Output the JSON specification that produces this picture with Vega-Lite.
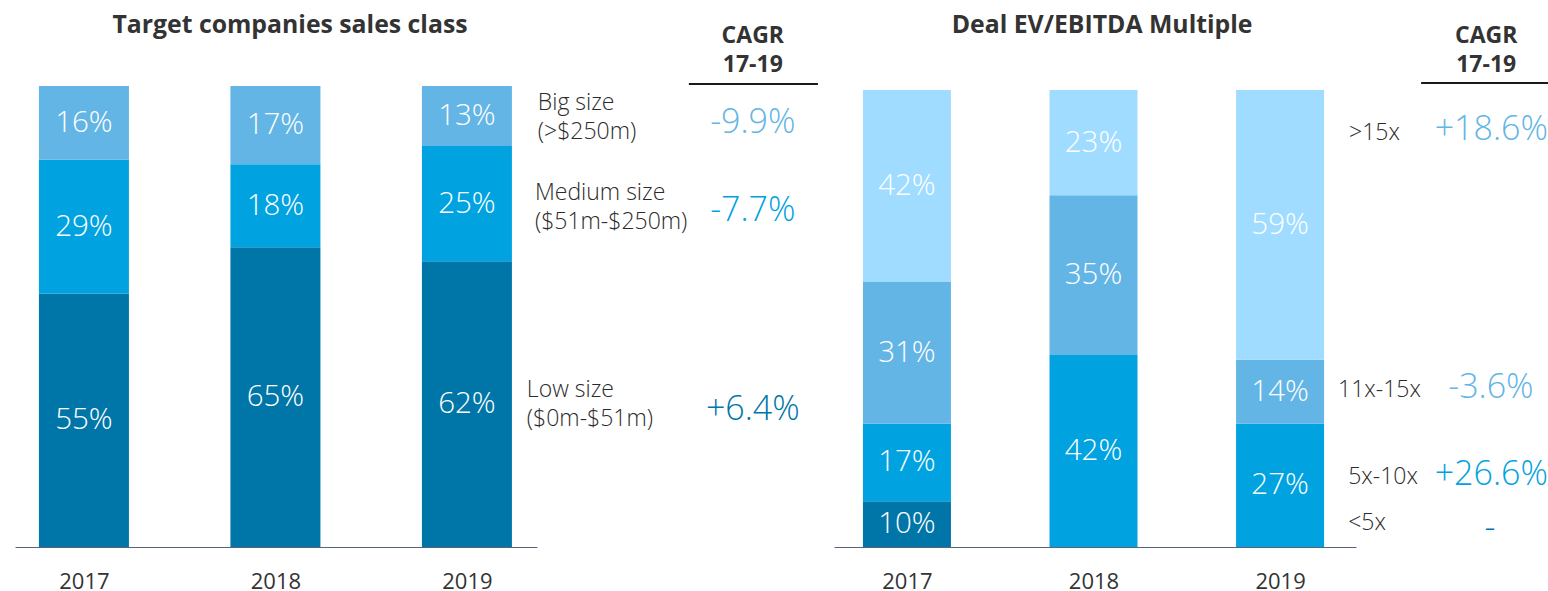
{
  "$schema": "https://vega.github.io/schema/vega-lite/v6.json",
  "background": "white",
  "padding": {"left": 15, "top": 12, "right": 0, "bottom": 0},
  "config": {"view": {"stroke": null}, "font": "Open Sans"},
  "bounds": "flush",
  "spacing": 297,
  "resolve": {"scale": {"x": "independent", "y": "independent", "color": "independent"}},
  "datasets": {
    "left": [
      {"year": 2017, "cat": "Low size", "pct": 0.55},
      {"year": 2017, "cat": "Medium size", "pct": 0.29},
      {"year": 2017, "cat": "Big size", "pct": 0.16},
      {"year": 2018, "cat": "Low size", "pct": 0.65},
      {"year": 2018, "cat": "Medium size", "pct": 0.18},
      {"year": 2018, "cat": "Big size", "pct": 0.17},
      {"year": 2019, "cat": "Low size", "pct": 0.62},
      {"year": 2019, "cat": "Medium size", "pct": 0.25},
      {"year": 2019, "cat": "Big size", "pct": 0.13}
    ],
    "right": [
      {"year": 2017, "cat": "<5x", "pct": 0.10},
      {"year": 2017, "cat": "5x-10x", "pct": 0.17},
      {"year": 2017, "cat": "11x-15x", "pct": 0.31},
      {"year": 2017, "cat": ">15x", "pct": 0.42},
      {"year": 2018, "cat": "5x-10x", "pct": 0.42},
      {"year": 2018, "cat": "11x-15x", "pct": 0.35},
      {"year": 2018, "cat": ">15x", "pct": 0.23},
      {"year": 2019, "cat": "5x-10x", "pct": 0.27},
      {"year": 2019, "cat": "11x-15x", "pct": 0.14},
      {"year": 2019, "cat": ">15x", "pct": 0.59}
    ],
    "annLeft": [
      {"cat": "Big size", "k": 3, "label": "Big size\n(>$250m)", "cagr": "-9.9%"},
      {"cat": "Medium size", "k": 2, "label": "Medium size\n($51m-$250m)", "cagr": "-7.7%"},
      {"cat": "Low size", "k": 1, "label": "Low size\n($0m-$51m)", "cagr": "+6.4%"}
    ],
    "annRight": [
      {"cat": ">15x", "k": 4, "label": ">15x", "cagr": "+18.6%"},
      {"cat": "11x-15x", "k": 3, "label": "11x-15x", "cagr": "-3.6%"},
      {"cat": "5x-10x", "k": 2, "label": "5x-10x", "cagr": "+26.6%"},
      {"cat": "<5x", "k": 1, "label": "<5x", "cagr": "-"}
    ],
    "head": [{"head": "CAGR\n17-19"}]
  },
  "hconcat": [
    {
      "width": 522,
      "height": 461,
      "layer": [
        {
          "data": {"name": "left"},
          "transform": [{"lookup": "cat", "from": {"data": {"name": "annLeft"}, "key": "cat", "fields": ["k"]}}],
          "layer": [
            {
              "mark": {"type": "bar", "width": 90},
              "encoding": {
                "x": {"field": "year", "type": "quantitative", "scale": {"domain": [2016.64, 2019.366], "nice": false, "zero": false, "padding": 0},
                      "axis": {"values": [2017, 2018, 2019], "format": "d", "title": null, "grid": false, "ticks": false, "tickSize": 0, "labelFontSize": 22, "labelColor": "#333333", "labelPadding": 24, "domainColor": "#5a6478", "domainWidth": 1.2, "labelFont": "Open Sans"}},
                "y": {"field": "pct", "type": "quantitative", "stack": "zero", "scale": {"domain": [0, 1], "nice": false}, "axis": null},
                "order": {"field": "k", "type": "quantitative", "sort": "ascending"},
                "color": {"field": "cat", "type": "nominal", "scale": {"domain": ["Low size", "Medium size", "Big size"], "range": ["#0076A8", "#00A3E0", "#62B5E5"]}, "legend": null}
              }
            },
            {
              "mark": {"type": "text", "fontSize": 29.5, "fontWeight": 300, "baseline": "middle", "align": "center", "color": "white"},
              "encoding": {
                "x": {"field": "year", "type": "quantitative"},
                "y": {"field": "pct", "type": "quantitative", "stack": "zero", "bandPosition": 0.5},
                "order": {"field": "k", "type": "quantitative", "sort": "ascending"},
                "detail": {"field": "cat", "type": "nominal"},
                "text": {"field": "pct", "type": "quantitative", "format": ".0%"}
              }
            }
          ]
        },
        {
          "data": {"name": "annLeft"},
          "transform": [{"filter": "datum.cat == 'Big size'"}],
          "layer": [
            {"mark": {"type": "text", "align": "left", "baseline": "middle", "fontSize": 23, "fontWeight": 300, "lineHeight": 29, "lineBreak": "\n", "color": "#2b2b2b"},
             "encoding": {"x": {"datum": 2019.37}, "y": {"datum": 0.963}, "text": {"field": "label"}}},
            {"mark": {"type": "text", "align": "center", "baseline": "middle", "fontSize": 34, "fontWeight": 300, "color": "#62B5E5"},
             "encoding": {"x": {"datum": 2020.493}, "y": {"datum": 0.92}, "text": {"field": "cagr"}}}
          ]
        },
        {
          "data": {"name": "annLeft"},
          "transform": [{"filter": "datum.cat == 'Medium size'"}],
          "layer": [
            {"mark": {"type": "text", "align": "left", "baseline": "middle", "fontSize": 23, "fontWeight": 300, "lineHeight": 29, "lineBreak": "\n", "color": "#2b2b2b"},
             "encoding": {"x": {"datum": 2019.355}, "y": {"datum": 0.768}, "text": {"field": "label"}}},
            {"mark": {"type": "text", "align": "center", "baseline": "middle", "fontSize": 34, "fontWeight": 300, "color": "#00A3E0"},
             "encoding": {"x": {"datum": 2020.493}, "y": {"datum": 0.729}, "text": {"field": "cagr"}}}
          ]
        },
        {
          "data": {"name": "annLeft"},
          "transform": [{"filter": "datum.cat == 'Low size'"}],
          "layer": [
            {"mark": {"type": "text", "align": "left", "baseline": "middle", "fontSize": 23, "fontWeight": 300, "lineHeight": 29, "lineBreak": "\n", "color": "#2b2b2b"},
             "encoding": {"x": {"datum": 2019.313}, "y": {"datum": 0.3406}, "text": {"field": "label"}}},
            {"mark": {"type": "text", "align": "center", "baseline": "middle", "fontSize": 34, "fontWeight": 300, "color": "#0076A8"},
             "encoding": {"x": {"datum": 2020.493}, "y": {"datum": 0.297}, "text": {"field": "cagr"}}}
          ]
        },
        {
          "data": {"name": "head"},
          "layer": [
            {"mark": {"type": "text", "align": "center", "baseline": "middle", "fontSize": 23, "fontWeight": "bold", "lineHeight": 29, "lineBreak": "\n", "color": "#333333"},
             "encoding": {"x": {"datum": 2020.493}, "y": {"datum": 1.1085}, "text": {"field": "head"}}},
            {"mark": {"type": "rule", "color": "#1a1a1a", "strokeWidth": 2},
             "encoding": {"x": {"datum": 2020.159}, "x2": {"datum": 2020.833}, "y": {"datum": 1.0043}}}
          ]
        },
        {
          "data": {"values": [{"t": "Target companies sales class"}]},
          "mark": {"type": "text", "align": "center", "baseline": "alphabetic", "fontSize": 24.8, "fontWeight": "bold", "color": "#333333"},
          "encoding": {"x": {"datum": 2018.076}, "y": {"datum": 1.115}, "text": {"field": "t"}}
        }
      ]
    },
    {
      "width": 522,
      "height": 461,
      "layer": [
        {
          "data": {"name": "right"},
          "transform": [{"lookup": "cat", "from": {"data": {"name": "annRight"}, "key": "cat", "fields": ["k"]}}],
          "layer": [
            {
              "mark": {"type": "bar", "width": 88},
              "encoding": {
                "x": {"field": "year", "type": "quantitative", "scale": {"domain": [2016.609, 2019.407], "nice": false, "zero": false, "padding": 0},
                      "axis": {"values": [2017, 2018, 2019], "format": "d", "title": null, "grid": false, "ticks": false, "tickSize": 0, "labelFontSize": 22, "labelColor": "#333333", "labelPadding": 24, "domainColor": "#5a6478", "domainWidth": 1.2, "labelFont": "Open Sans"}},
                "y": {"field": "pct", "type": "quantitative", "stack": "zero", "scale": {"domain": [0, 1.009], "nice": false}, "axis": null},
                "order": {"field": "k", "type": "quantitative", "sort": "ascending"},
                "color": {"field": "cat", "type": "nominal", "scale": {"domain": ["<5x", "5x-10x", "11x-15x", ">15x"], "range": ["#0076A8", "#00A3E0", "#62B5E5", "#A0DCFF"]}, "legend": null}
              }
            },
            {
              "mark": {"type": "text", "fontSize": 29.5, "fontWeight": 300, "baseline": "middle", "align": "center", "color": "white"},
              "encoding": {
                "x": {"field": "year", "type": "quantitative"},
                "y": {"field": "pct", "type": "quantitative", "stack": "zero", "bandPosition": 0.5},
                "order": {"field": "k", "type": "quantitative", "sort": "ascending"},
                "detail": {"field": "cat", "type": "nominal"},
                "text": {"field": "pct", "type": "quantitative", "format": ".0%"}
              }
            }
          ]
        },
        {
          "data": {"name": "annRight"},
          "transform": [{"filter": "datum.cat == '>15x'"}],
          "layer": [
            {"mark": {"type": "text", "align": "left", "baseline": "middle", "fontSize": 23, "fontWeight": 300, "color": "#2b2b2b"},
             "encoding": {"x": {"datum": 2019.37}, "y": {"datum": 0.906}, "text": {"field": "label"}}},
            {"mark": {"type": "text", "align": "center", "baseline": "middle", "fontSize": 34, "fontWeight": 300, "color": "#62B5E5"},
             "encoding": {"x": {"datum": 2020.132}, "y": {"datum": 0.913}, "text": {"field": "cagr"}}}
          ]
        },
        {
          "data": {"name": "annRight"},
          "transform": [{"filter": "datum.cat == '11x-15x'"}],
          "layer": [
            {"mark": {"type": "text", "align": "left", "baseline": "middle", "fontSize": 23, "fontWeight": 300, "color": "#2b2b2b"},
             "encoding": {"x": {"datum": 2019.311}, "y": {"datum": 0.344}, "text": {"field": "label"}}},
            {"mark": {"type": "text", "align": "center", "baseline": "middle", "fontSize": 34, "fontWeight": 300, "color": "#62B5E5"},
             "encoding": {"x": {"datum": 2020.13}, "y": {"datum": 0.348}, "text": {"field": "cagr"}}}
          ]
        },
        {
          "data": {"name": "annRight"},
          "transform": [{"filter": "datum.cat == '5x-10x'"}],
          "layer": [
            {"mark": {"type": "text", "align": "left", "baseline": "middle", "fontSize": 23, "fontWeight": 300, "color": "#2b2b2b"},
             "encoding": {"x": {"datum": 2019.365}, "y": {"datum": 0.153}, "text": {"field": "label"}}},
            {"mark": {"type": "text", "align": "center", "baseline": "middle", "fontSize": 34, "fontWeight": 300, "color": "#00A3E0"},
             "encoding": {"x": {"datum": 2020.132}, "y": {"datum": 0.158}, "text": {"field": "cagr"}}}
          ]
        },
        {
          "data": {"name": "annRight"},
          "transform": [{"filter": "datum.cat == '<5x'"}],
          "layer": [
            {"mark": {"type": "text", "align": "left", "baseline": "middle", "fontSize": 23, "fontWeight": 300, "color": "#2b2b2b"},
             "encoding": {"x": {"datum": 2019.365}, "y": {"datum": 0.0525}, "text": {"field": "label"}}},
            {"mark": {"type": "text", "align": "center", "baseline": "middle", "fontSize": 34, "fontWeight": 300, "color": "#0076A8"},
             "encoding": {"x": {"datum": 2020.125}, "y": {"datum": 0.039}, "text": {"field": "cagr"}}}
          ]
        },
        {
          "data": {"name": "head"},
          "layer": [
            {"mark": {"type": "text", "align": "center", "baseline": "middle", "fontSize": 23, "fontWeight": "bold", "lineHeight": 29, "lineBreak": "\n", "color": "#333333"},
             "encoding": {"x": {"datum": 2020.105}, "y": {"datum": 1.1184}, "text": {"field": "head"}}},
            {"mark": {"type": "rule", "color": "#1a1a1a", "strokeWidth": 2},
             "encoding": {"x": {"datum": 2019.756}, "x2": {"datum": 2020.437}, "y": {"datum": 1.0155}}}
          ]
        },
        {
          "data": {"values": [{"t": "Deal EV/EBITDA Multiple"}]},
          "mark": {"type": "text", "align": "center", "baseline": "alphabetic", "fontSize": 24.8, "fontWeight": "bold", "color": "#333333"},
          "encoding": {"x": {"datum": 2018.046}, "y": {"datum": 1.125}, "text": {"field": "t"}}
        }
      ]
    }
  ]
}
